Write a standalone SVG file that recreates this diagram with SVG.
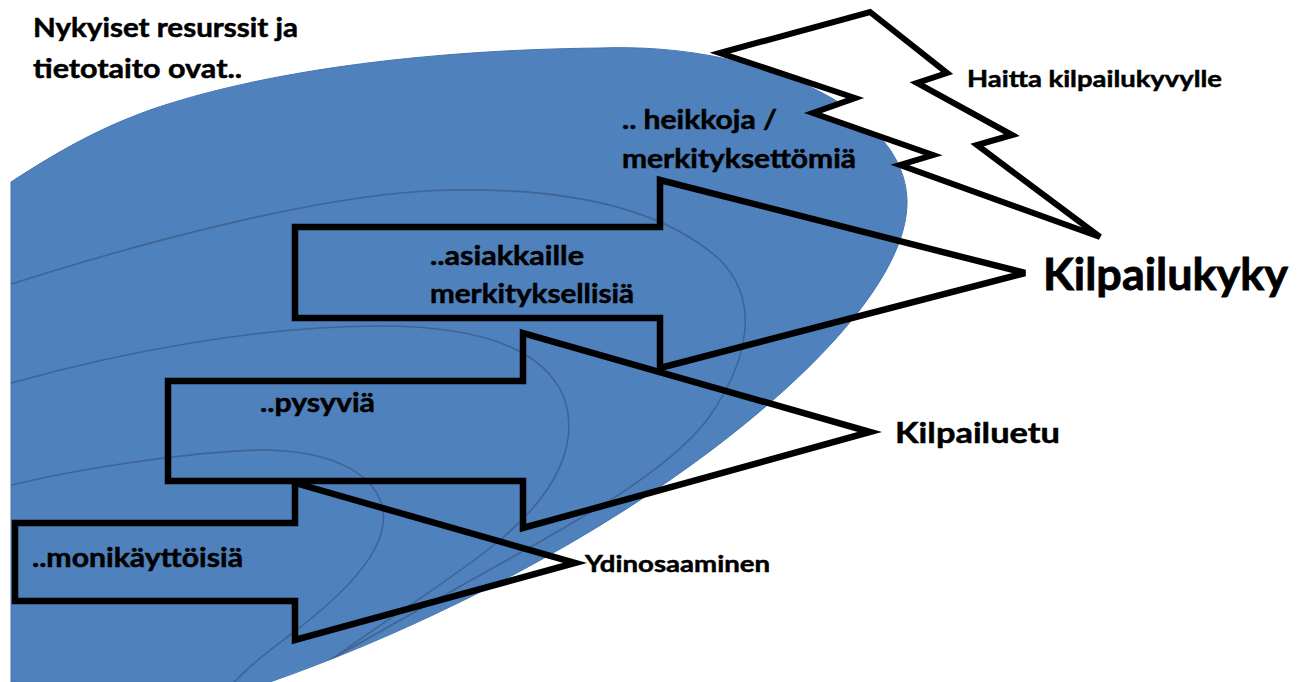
<svg xmlns="http://www.w3.org/2000/svg" width="1305" height="682" viewBox="0 0 1305 682">
<style>
.t{font-family:Lato,"Liberation Sans","DejaVu Sans",sans-serif;font-weight:bold;fill:#000;stroke:#000;stroke-width:0.5}
.m{font-size:26px}
.s{font-size:23px}
.out{fill:none;stroke:#000;stroke-width:6.5;stroke-linejoin:miter}
.ct{fill:none;stroke:#3d5f8c;stroke-width:1.6;opacity:0.85}
</style>
<defs>
<clipPath id="blobclip">
<path d="M11,182 C60,150 100,128 150,110 C260,72 420,50 600,48 C760,42 905,110 907,200 C909,280 800,390 670,480 C540,570 390,640 270,682 L11,682 Z"/>
</clipPath>
</defs>
<rect width="1305" height="682" fill="#fff"/>
<g id="resource-area">
<path d="M11,182 C60,150 100,128 150,110 C260,72 420,50 600,48 C760,42 905,110 907,200 C909,280 800,390 670,480 C540,570 390,640 270,682 L11,682 Z" fill="#4f81bd" stroke="#4575b0" stroke-width="1"/>
<g clip-path="url(#blobclip)">
<path class="ct" d="M8,285 C150,240 330,192 450,190 C560,188 660,205 720,260 C760,300 750,360 707,420 C660,480 560,530 450,592 C380,632 320,665 260,700"/>
<path class="ct" d="M8,384 C120,352 260,326 380,326 C470,326 540,345 563,395 C580,440 560,490 500,540 C440,590 350,640 280,700"/>
<path class="ct" d="M8,486 C80,468 190,452 260,450 C330,450 372,472 382,505 C392,545 350,590 290,635 C260,658 240,672 220,700"/>
</g>
</g>
<g id="threat">
<polygon points="720,53 870,12 947,73 917,83 1012,135 977,145 1100,237 900,165 933,155 813,113 855,98" fill="#fff" stroke="#000" stroke-width="6" stroke-linejoin="miter"/>
<text class="t s" x="967" y="87" textLength="255" lengthAdjust="spacingAndGlyphs">Haitta kilpailukyvylle</text>
</g>
<g id="title">
<text class="t m" x="33" y="37" textLength="265" lengthAdjust="spacingAndGlyphs">Nykyiset resurssit ja</text>
<text class="t m" x="33" y="78" textLength="209" lengthAdjust="spacingAndGlyphs">tietotaito ovat..</text>
</g>
<g id="weak">
<text class="t m" x="622" y="129" textLength="155" lengthAdjust="spacingAndGlyphs">.. heikkoja /</text>
<text class="t m" x="622" y="168" textLength="234" lengthAdjust="spacingAndGlyphs">merkityksettömiä</text>
</g>
<g id="connectors">
<path id="arrow-asiakkaille" class="out" d="M295,227 H660 V180 L1025,273 L660,368 V318 H295 Z"/>
<path id="arrow-pysyvia" class="out" d="M168,381 H523 V333 L870,432 L523,528 V481 H168 Z"/>
<path id="arrow-monikayttoisia" class="out" d="M15,523 H295 V483 L575,563 L295,640 V601 H15 Z"/>
</g>
<g id="node-asiakkaille">
<text class="t m" x="430" y="265" textLength="154" lengthAdjust="spacingAndGlyphs">..asiakkaille</text>
<text class="t m" x="430" y="303" textLength="204" lengthAdjust="spacingAndGlyphs">merkityksellisiä</text>
</g>
<g id="node-pysyvia">
<text class="t m" x="260" y="412" textLength="115" lengthAdjust="spacingAndGlyphs">..pysyviä</text>
</g>
<g id="node-monikayttoisia">
<text class="t m" x="32" y="567" textLength="211" lengthAdjust="spacingAndGlyphs">..monikäyttöisiä</text>
</g>
<g id="node-ydinosaaminen">
<text class="t s" x="585" y="572" textLength="185" lengthAdjust="spacingAndGlyphs">Ydinosaaminen</text>
</g>
<g id="node-kilpailuetu">
<text class="t" style="font-size:29px" x="895" y="443" textLength="165" lengthAdjust="spacingAndGlyphs">Kilpailuetu</text>
</g>
<g id="node-kilpailukyky">
<text class="t" style="font-size:44px;stroke-width:0.8" x="1043" y="290" textLength="245" lengthAdjust="spacingAndGlyphs">Kilpailukyky</text>
</g>
</svg>
